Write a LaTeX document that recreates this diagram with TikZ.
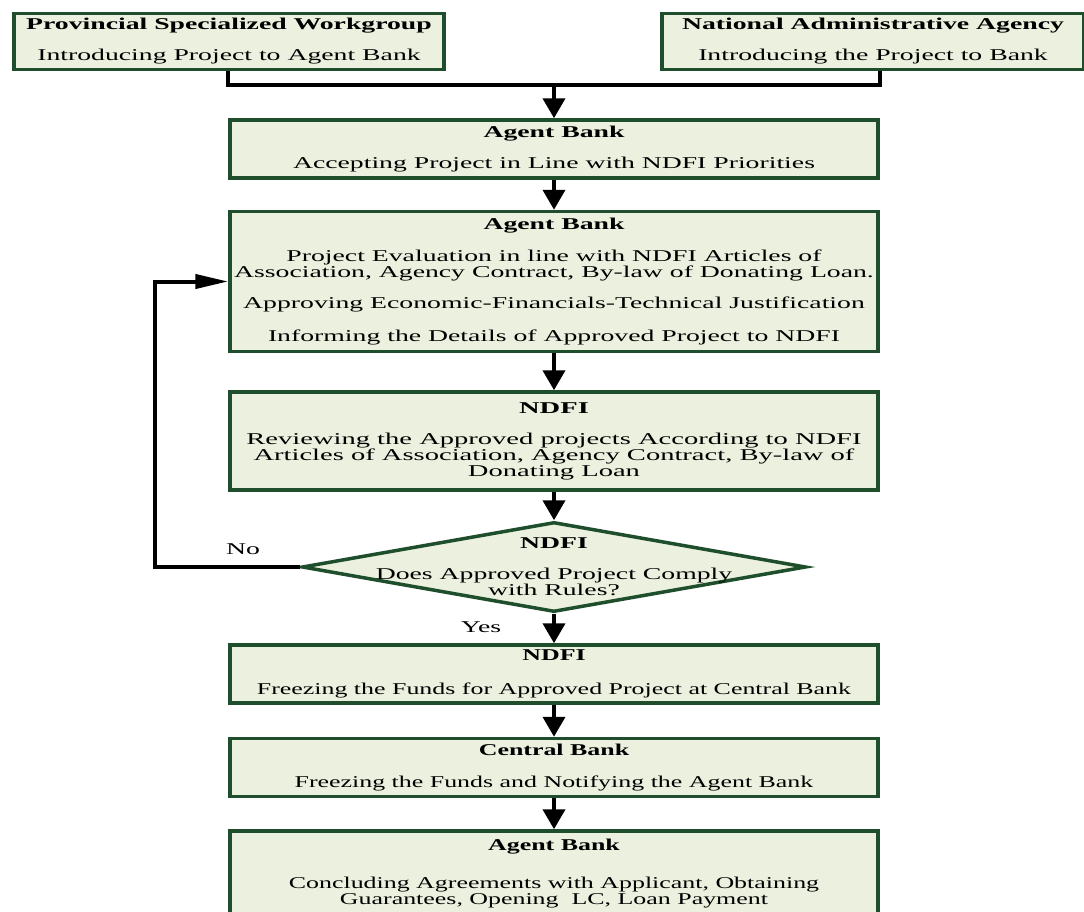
\documentclass[tikz,border=0pt]{standalone}
\usepackage{fontspec}
\setmainfont{Liberation Serif}[FakeStretch=1.68]
\newfontfamily\widefont{Liberation Serif}[FakeStretch=1.73]
\newfontfamily\narrowfont{Liberation Serif}[FakeStretch=1.57]
\usepackage{tikz}
\usetikzlibrary{calc, arrows.meta, positioning, shapes.geometric}

\definecolor{boxfill}{RGB}{235,241,222}
\definecolor{boxline}{RGB}{30,78,44}

\tikzset{
  stage/.style={draw=boxline, line width=3.5pt, fill=boxfill, align=center, inner sep=0pt, minimum width=648pt},
  link/.style={line width=4pt},
  varrow/.style={line width=4pt, -{Triangle[width=22pt,length=20pt]}},
  harrow/.style={line width=4pt, -{Triangle[width=14pt,length=33pt]}},
}

\begin{document}
\begin{tikzpicture}[x=1pt, y=-1pt, font=\fontsize{16.5}{16}\selectfont]
    \useasboundingbox (0,0) rectangle (1084,911);
    \clip (0,0) rectangle (1084,911);

    % Introducing the project
    \node[stage, minimum width=430pt, minimum height=56pt] (prov) at (229,41.5)
        {\textbf{Provincial Specialized Workgroup}\\[15pt]Introducing Project to Agent Bank};
    \node[stage, minimum width=422pt, minimum height=56pt] (nat) at (873,41.5)
        {\textbf{National Administrative Agency}\\[15pt]Introducing the Project to Bank};

    % Agent bank
    \node[stage, minimum height=58pt] (accept) at (554,149)
        {\textbf{Agent Bank}\\[15pt]Accepting Project in Line with NDFI Priorities};
    \node[stage, minimum height=140pt] (evaluate) at (554,281.5)
        {\textbf{Agent Bank}\\[16pt]Project Evaluation in line with NDFI Articles of\\
         Association, Agency Contract, By-law of Donating Loan.\\[15pt]
         Approving Economic-Financials-Technical Justification\\[17pt]
         Informing the Details of Approved Project to NDFI};

    % NDFI
    \node[stage, minimum height=98pt, font=\widefont\fontsize{16.5}{16}\selectfont] (review) at (554,441)
        {\textbf{NDFI}\\[15pt]Reviewing the Approved projects According to NDFI\\
         Articles of Association, Agency Contract, By-law of\\Donating Loan};
    \node[diamond, draw=boxline, line width=3.5pt, fill=boxfill, inner sep=0pt,
          minimum width=504pt, minimum height=90pt] (check) at (554,567) {};
    \node[align=center] (checktext) at (check)
        {\textbf{NDFI}\\[15pt]Does Approved Project Comply\\with Rules?};
    \node[stage, minimum height=58pt, font=\narrowfont\fontsize{16.5}{16}\selectfont] (freeze) at (554,674)
        {\textbf{NDFI}\\[18pt]Freezing the Funds for Approved Project at Central Bank};

    % Central bank and agent bank
    \node[stage, minimum height=58pt, font=\narrowfont\fontsize{16.5}{16}\selectfont] (central) at (554,767.5)
        {\textbf{Central Bank}\\[16pt]Freezing the Funds and Notifying the Agent Bank};
    \node[stage, minimum height=86pt, font=\narrowfont\fontsize{16.5}{16}\selectfont] (conclude) at (554,874)
        {\textbf{Agent Bank}\\[22pt]Concluding Agreements with Applicant, Obtaining\\
         Guarantees, Opening\ \ LC, Loan Payment};

    % Connectors
    \coordinate (join) at (554,85);
    \coordinate (noleft) at (155,0);
    \draw[link] (prov.south -| accept.west) |- (join) -| (nat.south -| accept.east);
    \draw[varrow] (join) -- (accept.north);
    \draw[varrow] (accept) -- (evaluate);
    \draw[varrow] (evaluate) -- (review);
    \draw[varrow] (review) -- (check.north);
    \draw[varrow] (check.south) -- (freeze);
    \draw[varrow] (freeze) -- (central);
    \draw[varrow] (central) -- (conclude);
    \draw[harrow] (check.west) -- (check.west -| noleft) |- (evaluate.west);

    \node (no) at (243,549) {No};
    \node (yes) at (481,627) {Yes};
\end{tikzpicture}
\end{document}
